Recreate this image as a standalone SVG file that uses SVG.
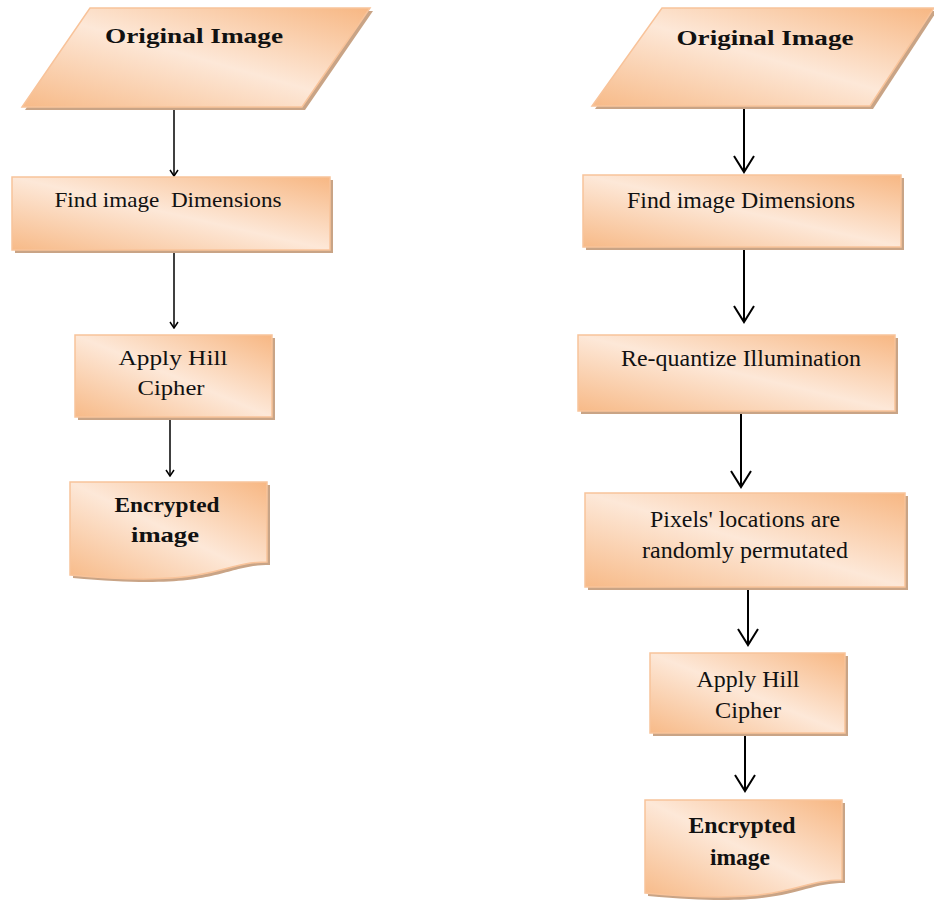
<svg xmlns="http://www.w3.org/2000/svg" width="934" height="901" viewBox="0 0 934 901">
<defs>
<linearGradient id="g" x1="1" y1="0" x2="0" y2="1">
<stop offset="0" stop-color="#F7B783"/>
<stop offset="0.5" stop-color="#FDE8D8"/>
<stop offset="1" stop-color="#F7BA88"/>
</linearGradient>
<marker id="aS" markerWidth="10" markerHeight="10" refX="5" refY="9" markerUnits="userSpaceOnUse" viewBox="0 0 10 10">
<path d="M1,3 L5,9 L9,3" fill="none" stroke="#000" stroke-width="1.5"/>
</marker>
<marker id="aL" markerWidth="24" markerHeight="24" refX="12" refY="22" markerUnits="userSpaceOnUse" viewBox="0 0 24 24">
<path d="M2,6 L12,22 L22,6" fill="none" stroke="#000" stroke-width="2"/>
</marker>
</defs>
<style>
.sh{fill:#C9A486}
.nd{fill:url(#g);stroke:#F8C39A;stroke-width:1.5}
.t{font-family:"Liberation Serif",serif;font-size:21px;fill:#111;text-anchor:middle}
.r{font-size:24px}
.b{font-weight:bold}
.cs{stroke:#000;stroke-width:1.5;fill:none;marker-end:url(#aS)}
.cl{stroke:#000;stroke-width:2;fill:none;marker-end:url(#aL)}
</style>

<g id="connectors">
<line class="cs" x1="174" y1="108" x2="174" y2="176"/>
<line class="cs" x1="174" y1="252" x2="174" y2="328"/>
<line class="cs" x1="170" y1="418" x2="170" y2="476"/>
<line class="cl" x1="744" y1="109" x2="744" y2="172"/>
<line class="cl" x1="744" y1="250" x2="744" y2="322"/>
<line class="cl" x1="741" y1="414" x2="741" y2="487"/>
<line class="cl" x1="748" y1="590" x2="748" y2="645"/>
<line class="cl" x1="745" y1="736" x2="745" y2="791"/>
</g>

<g id="left-original">
<path class="sh" d="M93,11 L373,11 L305,110 L25,110 Z"/>
<path class="nd" d="M90,8 L370,8 L302,107 L22,107 Z"/>
<text class="t b" x="194" y="43" font-size="23" textLength="178" lengthAdjust="spacingAndGlyphs">Original Image</text>
</g>
<g id="left-dimensions">
<rect class="sh" x="15" y="180" width="318" height="73"/>
<rect class="nd" x="12" y="177" width="318" height="73"/>
<text class="t" x="168" y="207" xml:space="preserve" textLength="227" lengthAdjust="spacingAndGlyphs">Find image  Dimensions</text>
</g>
<g id="left-hill">
<rect class="sh" x="78" y="338" width="197" height="82"/>
<rect class="nd" x="75" y="335" width="197" height="82"/>
<text class="t" x="173" y="365" textLength="109" lengthAdjust="spacingAndGlyphs">Apply Hill</text>
<text class="t" x="171" y="395" textLength="67" lengthAdjust="spacingAndGlyphs">Cipher</text>
</g>
<g id="left-encrypted">
<path class="sh" d="M73,485 H270 V565 C220,565 220,592 73,578 Z"/>
<path class="nd" d="M70,482 H267 V562 C217,562 217,589 70,575 Z"/>
<text class="t b" x="167" y="512" font-size="22" textLength="105" lengthAdjust="spacingAndGlyphs">Encrypted</text>
<text class="t b" x="165" y="542" font-size="22" textLength="68" lengthAdjust="spacingAndGlyphs">image</text>
</g>

<g id="right-original">
<path class="sh" d="M665,11 L937,11 L873,109 L595,109 Z"/>
<path class="nd" d="M662,8 L934,8 L870,106 L592,106 Z"/>
<text class="t b" x="765" y="45" font-size="27" textLength="177" lengthAdjust="spacingAndGlyphs">Original Image</text>
</g>
<g id="right-dimensions">
<rect class="sh" x="586" y="178" width="318" height="72"/>
<rect class="nd" x="583" y="175" width="318" height="72"/>
<text class="t r" x="741" y="208" textLength="228" lengthAdjust="spacingAndGlyphs">Find image Dimensions</text>
</g>
<g id="right-requantize">
<rect class="sh" x="581" y="338" width="317" height="76"/>
<rect class="nd" x="578" y="335" width="317" height="76"/>
<text class="t r" x="741" y="366" textLength="240" lengthAdjust="spacingAndGlyphs">Re-quantize Illumination</text>
</g>
<g id="right-permute">
<rect class="sh" x="588" y="496" width="320" height="94"/>
<rect class="nd" x="585" y="493" width="320" height="94"/>
<text class="t r" x="745" y="527" textLength="190" lengthAdjust="spacingAndGlyphs">Pixels' locations are</text>
<text class="t r" x="745" y="558" textLength="206" lengthAdjust="spacingAndGlyphs">randomly permutated</text>
</g>
<g id="right-hill">
<rect class="sh" x="653" y="656" width="195" height="80"/>
<rect class="nd" x="650" y="653" width="195" height="80"/>
<text class="t r" x="748" y="687" textLength="103" lengthAdjust="spacingAndGlyphs">Apply Hill</text>
<text class="t r" x="748" y="718" textLength="66" lengthAdjust="spacingAndGlyphs">Cipher</text>
</g>
<g id="right-encrypted">
<path class="sh" d="M648,803 H845 V883 C795,883 795,910 648,896 Z"/>
<path class="nd" d="M645,800 H842 V880 C792,880 792,907 645,893 Z"/>
<text class="t r b" x="742" y="833" textLength="107" lengthAdjust="spacingAndGlyphs">Encrypted</text>
<text class="t r b" x="740" y="865" textLength="60" lengthAdjust="spacingAndGlyphs">image</text>
</g>
</svg>
